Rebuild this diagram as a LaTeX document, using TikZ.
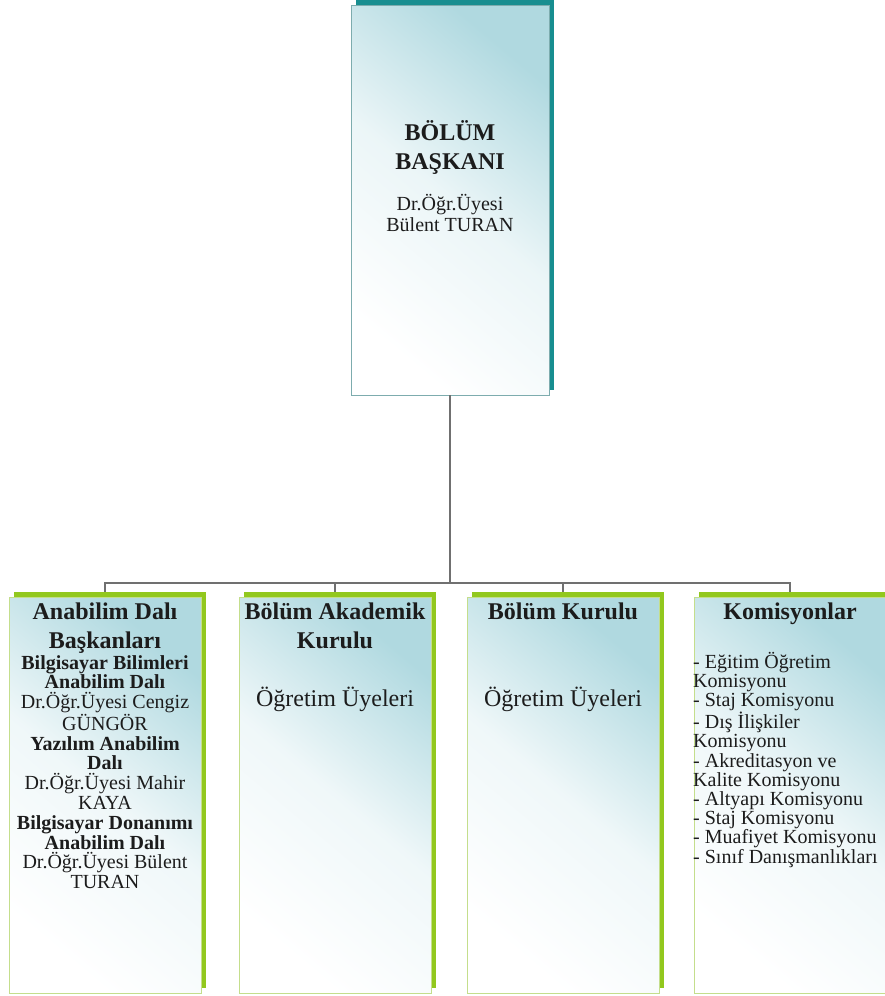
\documentclass[tikz,border=0pt]{standalone}
\usepackage{fontspec}
\setmainfont{Liberation Serif}
\usepackage{xcolor}
\usepackage{tikz}
\usetikzlibrary{shadows}
\definecolor{headteal}{RGB}{24,142,144}
\definecolor{headedge}{RGB}{125,172,174}
\definecolor{unitgreen}{RGB}{146,200,30}
\definecolor{unitedge}{RGB}{196,222,140}
\definecolor{paleblue}{RGB}{176,217,224}
\definecolor{linkgray}{RGB}{112,112,112}
\definecolor{inkgray}{RGB}{28,28,28}

\tikzset{
  chairbox/.style={draw=headedge, line width=0.8pt, inner sep=0pt,
    minimum width=198pt, minimum height=390pt,
    top color=paleblue, bottom color=white, middle color=paleblue!25!white, shading angle=-40,
    general shadow={fill=headteal, shadow xshift=5pt, shadow yshift=5pt}},
  unitbox/.style={draw=unitedge, line width=0.8pt, inner sep=0pt,
    minimum width=192pt, minimum height=396pt,
    top color=paleblue, bottom color=white, middle color=paleblue!20!white, shading angle=-40,
    general shadow={fill=unitgreen, shadow xshift=5pt, shadow yshift=5pt}},
  link/.style={draw=linkgray, line width=2pt},
  headtext/.style={font=\bfseries\fontsize{24}{29}\selectfont, text=inkgray, align=center, inner sep=0pt, anchor=north},
  nametext/.style={font=\fontsize{20}{19.8}\selectfont, text=inkgray, align=center, inner sep=0pt, anchor=north},
  membertext/.style={font=\fontsize{24}{28}\selectfont, text=inkgray, align=center, inner sep=0pt, anchor=north},
  listtext/.style={font=\fontsize{20}{19.2}\selectfont, text=inkgray, align=left, inner sep=0pt, anchor=north west}
}

\begin{document}
\begin{tikzpicture}[x=1pt,y=-1pt]
\useasboundingbox (0,0) rectangle (884,996);
% Draw the head box
\node[chairbox] (chair) at (450,200) {};
% Draw the four unit boxes
\node[unitbox] (anabilim) at (105,795) {};
\node[unitbox] (akademik) at (335,795) {};
\node[unitbox] (kurul) at (563,795) {};
\node[unitbox] (komisyon) at (790,795) {};
% Connectors
\coordinate (bus) at (450,583);
\draw[link] (chair.south) -- (bus);
\draw[link] (bus) -| ([yshift=5pt]anabilim.north);
\draw[link] (bus) -| ([yshift=5pt]akademik.north);
\draw[link] (bus) -| ([yshift=5pt]kurul.north);
\draw[link] (bus) -| ([yshift=5pt]komisyon.north);
% Labels
\node[headtext] (chairtitle) at (450,120) {BÖLÜM\\BAŞKANI};
\node[nametext, font=\fontsize{20}{21}\selectfont] (chairname) at (450,194) {Dr.Öğr.Üyesi\\Bülent TURAN};
\node[headtext] (anabilimtitle) at (105,603) {Anabilim Dalı\\Başkanları};
\node[nametext] (anabilimnames) at (105,655) {\textbf{Bilgisayar Bilimleri}\\\textbf{Anabilim Dalı}\\Dr.Öğr.Üyesi Cengiz\\GÜNGÖR\\\textbf{Yazılım Anabilim}\\\textbf{Dalı}\\Dr.Öğr.Üyesi Mahir\\KAYA\\\textbf{Bilgisayar Donanımı}\\\textbf{Anabilim Dalı}\\Dr.Öğr.Üyesi Bülent\\TURAN};
\node[headtext] (akademiktitle) at (335,603) {Bölüm Akademik\\Kurulu};
\node[membertext] (akademikmembers) at (335,687) {Öğretim Üyeleri};
\node[headtext] (kurultitle) at (563,603) {Bölüm Kurulu};
\node[membertext] (kurulmembers) at (563,687) {Öğretim Üyeleri};
\node[headtext] (komisyontitle) at (790,603) {Komisyonlar};
\node[listtext] (komisyonlist) at (693,652) {- Eğitim Öğretim\\Komisyonu\\- Staj Komisyonu\\- Dış İlişkiler\\Komisyonu\\- Akreditasyon ve\\Kalite Komisyonu\\- Altyapı Komisyonu\\- Staj Komisyonu\\- Muafiyet Komisyonu\\- Sınıf Danışmanlıkları};
\end{tikzpicture}
\end{document}
